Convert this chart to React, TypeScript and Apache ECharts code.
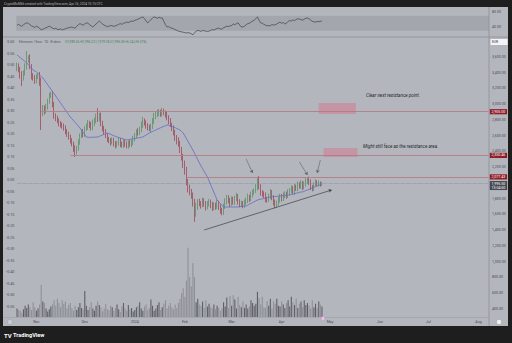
import React, { useEffect, useRef } from "react";
import * as echarts from "echarts";

// ---- data ----
const firstOpen = 3460;
const closes = [
  3490, 3440, 3370, 3330, 3400, 3480, 3560, 3590, 3480, 3360,
  3330, 3300, 3350, 3370, 3280, 2890, 2950, 2920, 2960, 3040,
  3110, 3120, 3000, 2860, 2820, 2790, 2760, 2740, 2720, 2700,
  2660, 2620, 2580, 2540, 2500, 2440, 2400, 2440, 2520, 2600,
  2640, 2620, 2690, 2720, 2760, 2740, 2700, 2760, 2800, 2840,
  2810, 2850, 2760, 2700, 2650, 2600, 2560, 2540, 2520, 2540,
  2500, 2480, 2510, 2540, 2500, 2480, 2520, 2500, 2470, 2510,
  2490, 2520, 2560, 2600, 2650, 2640, 2680, 2740, 2790, 2760,
  2730, 2700, 2690, 2720, 2780, 2850, 2870, 2880, 2900, 2880,
  2910, 2890, 2870, 2830, 2790, 2740, 2700, 2640, 2580, 2540,
  2500, 2430, 2330, 2250, 2160, 2020, 1940, 1890, 1850, 1760,
  1620, 1700, 1760, 1740, 1720, 1770, 1740, 1700, 1730, 1760,
  1720, 1690, 1720, 1700, 1740, 1700, 1660, 1630, 1700, 1760,
  1810, 1780, 1740, 1790, 1760, 1800, 1830, 1770, 1730, 1740,
  1720, 1750, 1780, 1820, 1800, 1850, 1880, 1900, 1940, 2050,
  1950, 1880, 1860, 1840, 1800, 1790, 1830, 1880, 1820, 1760,
  1720, 1740, 1790, 1830, 1800, 1840, 1860, 1840, 1880, 1900,
  1930, 1890, 1950, 1930, 1980, 1960, 2000, 1950, 1990, 2020,
  2050, 2010, 1950, 1930, 1980, 2010, 1990, 2000, 1980, 1995.5,
];
const wickUp = [
  40, 30, 35, 50, 30, 40, 116, 30, 45, 30,
  35, 40, 30, 25, 40, 60, 40, 35, 45, 30,
  35, 40, 50, 30, 25, 35, 30, 25, 30, 35,
  30, 25, 30, 35, 30, 25, 40, 30, 35, 30,
  40, 45, 30, 35, 40, 30, 35, 45, 30, 40,
  110, 40, 45, 30, 25, 35, 30, 25, 30, 40,
  35, 30, 25, 40, 30, 25, 35, 30, 25, 30,
  35, 30, 40, 35, 30, 45, 35, 40, 50, 30,
  35, 30, 40, 35, 45, 40, 35, 50, 40, 30,
  45, 35, 30, 40, 30, 35, 25, 30, 35, 30,
  40, 35, 30, 40, 35, 45, 30, 40, 35, 30,
  40, 50, 35, 40, 30, 45, 35, 30, 40, 35,
  30, 40, 35, 30, 45, 35, 30, 25, 40, 45,
  40, 35, 30, 40, 35, 40, 45, 30, 25, 35,
  30, 40, 35, 45, 30, 40, 35, 30, 45, 20,
  40, 35, 30, 35, 40, 25, 35, 45, 30, 25,
  30, 35, 40, 35, 30, 40, 35, 30, 40, 35,
  40, 30, 35, 30, 40, 30, 35, 25, 30, 40,
  20, 30, 35, 25, 30, 35, 25, 30, 20, 15,
];
const wickDown = [
  40, 35, 45, 98, 30, 35, 40, 30, 35, 45,
  30, 40, 35, 30, 45, 217, 40, 50, 35, 30,
  35, 30, 40, 45, 35, 30, 40, 35, 30, 35,
  40, 35, 30, 40, 35, 45, 70, 40, 30, 35,
  30, 40, 35, 30, 45, 40, 35, 30, 35, 40,
  35, 30, 40, 45, 35, 30, 40, 35, 45, 30,
  35, 40, 30, 35, 45, 30, 35, 40, 30, 35,
  30, 35, 40, 30, 35, 40, 30, 35, 40, 30,
  40, 35, 30, 45, 35, 30, 40, 35, 30, 40,
  35, 30, 40, 35, 45, 30, 40, 35, 45, 50,
  40, 50, 45, 60, 55, 50, 60, 45, 50, 60,
  115, 50, 40, 35, 45, 30, 40, 50, 35, 30,
  40, 45, 35, 40, 30, 45, 50, 40, 35, 30,
  35, 40, 45, 30, 35, 40, 30, 45, 40, 35,
  40, 35, 30, 35, 40, 30, 35, 30, 25, 35,
  30, 40, 35, 30, 45, 40, 30, 35, 40, 45,
  40, 35, 30, 40, 35, 30, 35, 40, 30, 35,
  30, 35, 40, 30, 35, 30, 35, 40, 30, 35,
  30, 35, 40, 35, 30, 25, 30, 35, 25, 20,
];
const volumes = [
  12, 10, 9, 6, 11, 16, 13, 18, 14, 10,
  21, 14, 9, 12, 18, 46, 22, 20, 12, 8,
  11, 15, 18, 24, 16, 26, 20, 14, 24, 19,
  22, 12, 17, 20, 13, 9, 16, 10, 14, 20,
  13, 11, 37, 16, 10, 14, 21, 12, 9, 16,
  22, 17, 14, 8, 12, 19, 11, 10, 16, 14,
  9, 13, 18, 11, 7, 15, 20, 12, 9, 17,
  11, 13, 8, 10, 14, 16, 21, 12, 9, 15,
  18, 10, 13, 25, 16, 9, 12, 17, 21, 10,
  14, 19, 24, 12, 16, 20, 14, 11, 18, 13,
  20, 26, 34, 41, 29, 52, 99, 57, 44, 77,
  57, 21, 26, 18, 16, 22, 13, 24, 15, 19,
  14, 12, 18, 11, 16, 13, 9, 12, 21, 15,
  28, 13, 30, 16, 31, 25, 12, 29, 17, 14,
  22, 13, 18, 12, 15, 24, 20, 16, 19, 36,
  27, 18, 29, 14, 13, 23, 16, 26, 12, 22,
  19, 26, 16, 15, 22, 18, 13, 20, 24, 15,
  29, 21, 17, 26, 13, 19, 22, 14, 24, 17,
  20, 16, 12, 24, 14, 19, 13, 22, 18, 15,
];
const rsi = [
  45, 47, 44, 42, 46, 49, 51, 50, 46, 43,
  41, 39, 42, 40, 37, 32, 34, 36, 38, 40,
  42, 40, 37, 35, 36, 34, 33, 35, 32, 34,
  35, 37, 38, 39, 40, 38, 37, 42, 46, 49,
  47, 45, 48, 51, 50, 46, 43, 40, 44, 48,
  52, 56, 52, 48, 45, 43, 41, 42, 44, 43,
  42, 43, 45, 47, 49, 47, 50, 51, 53, 52,
  54, 56, 55, 58, 59, 61, 63, 65, 67, 62,
  56, 51, 55, 60, 64, 67, 65, 63, 66, 64,
  64, 55, 46, 40, 41, 38, 37, 35, 33, 31,
  29, 28, 27, 26, 25, 24, 25, 24, 22, 19,
  24, 29, 31, 30, 28, 31, 30, 29, 28, 29,
  31, 33, 32, 34, 36, 37, 35, 34, 38, 40,
  42, 41, 43, 44, 48, 46, 49, 51, 45, 40,
  40, 42, 46, 49, 50, 53, 56, 58, 62, 67,
  58, 51, 50, 47, 45, 43, 44, 43, 47, 45,
  46, 48, 51, 53, 50, 52, 48, 50, 55, 57,
  56, 59, 57, 60, 62, 61, 60, 58, 61, 63,
  64, 62, 58, 55, 54, 53, 55, 54, 55, 56,
];
const ma = [
  3626, 3610, 3593, 3576, 3559, 3541, 3524, 3502, 3480, 3457,
  3435, 3422, 3410, 3391, 3372, 3353, 3334, 3305, 3276, 3248,
  3219, 3190, 3161, 3132, 3103, 3074, 3045, 3016, 2986, 2956,
  2927, 2897, 2868, 2838, 2815, 2792, 2770, 2747, 2723, 2699,
  2670, 2641, 2612, 2584, 2582, 2580, 2580, 2581, 2582, 2583,
  2584, 2592, 2601, 2610, 2618, 2627, 2635, 2627, 2618, 2610,
  2601, 2592, 2584, 2578, 2571, 2565, 2559, 2552, 2546, 2550,
  2554, 2557, 2561, 2565, 2569, 2573, 2577, 2580, 2584, 2597,
  2610, 2622, 2635, 2645, 2654, 2664, 2673, 2683, 2692, 2702,
  2711, 2720, 2728, 2737, 2731, 2724, 2718, 2711, 2702, 2692,
  2683, 2673, 2654, 2635, 2599, 2563, 2527, 2491, 2455, 2419,
  2378, 2337, 2295, 2254, 2218, 2183, 2147, 2112, 2076, 2027,
  1979, 1930, 1881, 1833, 1784, 1762, 1740, 1717, 1695, 1695,
  1695, 1695, 1695, 1695, 1695, 1695, 1695, 1697, 1699, 1702,
  1704, 1706, 1708, 1719, 1730, 1741, 1751, 1762, 1773, 1784,
  1789, 1794, 1798, 1803, 1808, 1813, 1817, 1822, 1824, 1826,
  1828, 1831, 1833, 1835, 1837, 1839, 1841, 1844, 1846, 1848,
  1853, 1859, 1864, 1870, 1875, 1881, 1886, 1886, 1894, 1903,
  1911, 1920, 1928, 1937, 1945, 1954, 1962, 1970, 1979, 1987,
];
const priceTicks = [400, 600, 800, 1000, 1200, 1400, 1600, 1800, 2000, 2200, 2400, 2600, 2800, 3000, 3200, 3400, 3600];
const ratioTicks = [0.6, 0.55, 0.5, 0.45, 0.4, 0.35, 0.3, 0.25, 0.2, 0.15, 0.1, 0.05, 0, -0.05, -0.1, -0.15, -0.2, -0.25, -0.3, -0.35, -0.4, -0.45, -0.5, -0.55];
const rsiTicks = [80, 40];
const rsiBand = [30, 70];
const levelValues = [2905.0, 2350.46, 2077.43];
const levelStartIdx = [15, 33, 105];
const lastPrice = 1995.5;
const countdown = "13:04:50";
const trendLine = { from: [116, 1403], to: [195, 1911] };
const arrows = [
  { from: [142, 2305], to: [146, 2127] },
  { from: [175, 2267], to: [180, 2102] },
  { from: [188, 2292], to: [186, 2127] },
];
const zones = [
  { x0: 187, x1: 210, y0: 3016, y1: 2876 },
  { x0: 190, x1: 211, y0: 2445, y1: 2330 },
];
const MONTHS = ["Jan", "Feb", "Mar", "Apr", "May", "Jun", "Jul", "Aug", "Sep", "Oct", "Nov", "Dec"];

// category axis (daily) from 2023-10-20 to 2024-08-07
const N_CATS = 293;
const START = Date.UTC(2023, 9, 20);
const dates: string[] = [];
for (let i = 0; i < N_CATS; i++) dates.push(new Date(START + i * 86400000).toISOString().slice(0, 10));

const fmtPrice = (v: number) =>
  v.toLocaleString("en-US", { minimumFractionDigits: 2, maximumFractionDigits: 2 });

export default function App() {
  const ref = useRef<HTMLDivElement>(null);
  useEffect(() => {
    if (!ref.current) return;
    const chart = echarts.init(ref.current, undefined, { renderer: "svg" });

    const candles = closes.map((c, i) => {
      const o = i === 0 ? firstOpen : closes[i - 1];
      return [o, c, Math.min(o, c) - wickDown[i], Math.max(o, c) + wickUp[i]];
    });
    const volData = volumes.map((v, i) => {
      const o = i === 0 ? firstOpen : closes[i - 1];
      return { value: v, itemStyle: { color: closes[i] >= o ? "#5e6067" : "#8f9198" } };
    });

    const axisText = { fontSize: 3.6, color: "#4a4c53", fontFamily: "Roboto" };
    const last = dates[N_CATS - 1];

    const option: any = {
      animation: false,
      backgroundColor: "#b4b6be",
      textStyle: { fontFamily: "Roboto" },
      grid: [
        { left: 16.2, right: 23, top: 37, height: 280 },
        { left: 16.2, right: 23, top: 7, height: 30 },
      ],
      xAxis: [
        {
          type: "category",
          gridIndex: 0,
          data: dates,
          axisLine: { show: false },
          axisTick: { show: false },
          splitLine: { show: false },
          axisLabel: {
            ...axisText,
            margin: 3,
            interval: (_i: number, v: string) => v.slice(8) === "01",
            formatter: (v: string) => {
              const m = +v.slice(5, 7);
              return m === 1 ? v.slice(0, 4) : MONTHS[m - 1];
            },
          },
        },
        { type: "category", gridIndex: 1, data: dates, show: false },
      ],
      yAxis: [
        {
          type: "value",
          gridIndex: 0,
          position: "right",
          min: 298,
          max: 3854,
          axisLine: { show: false },
          axisTick: { show: false },
          splitLine: { show: false },
          axisLabel: { ...axisText, margin: 3, customValues: priceTicks, formatter: (v: number) => fmtPrice(v) },
        },
        {
          type: "value",
          gridIndex: 0,
          position: "left",
          min: -0.5934,
          max: 0.6217,
          axisLine: { show: false },
          axisTick: { show: false },
          splitLine: { show: false },
          axisLabel: {
            ...axisText,
            margin: 2,
            customValues: ratioTicks,
            formatter: (v: number) => v.toFixed(2).replace("-", "\u2212"),
          },
        },
        { type: "value", gridIndex: 0, min: 0, max: 400, show: false },
        {
          type: "value",
          gridIndex: 1,
          position: "right",
          min: 13.33,
          max: 93.33,
          axisLine: { show: false },
          axisTick: { show: false },
          splitLine: { show: false },
          axisLabel: { ...axisText, margin: 3, customValues: rsiTicks, formatter: (v: number) => v.toFixed(2) },
        },
      ],
      series: [
        {
          type: "bar",
          xAxisIndex: 0,
          yAxisIndex: 2,
          data: volData,
          barWidth: 1.1,
          silent: true,
        },
        {
          type: "candlestick",
          xAxisIndex: 0,
          yAxisIndex: 0,
          data: candles,
          barWidth: 0.8,
          silent: true,
          itemStyle: {
            color: "#4f8c5c",
            color0: "#9b3a49",
            borderColor: "#4f8c5c",
            borderColor0: "#9b3a49",
            borderWidth: 0.7,
          },
          markArea: {
            silent: true,
            itemStyle: { color: "rgba(212,118,140,0.5)" },
            data: zones.map((z) => [
              { coord: [dates[z.x0], z.y0] },
              { coord: [dates[z.x1], z.y1] },
            ]),
          },
          markLine: {
            silent: true,
            symbol: ["none", "none"],
            data: [
              ...levelValues.map((v, k) => [
                {
                  coord: [dates[levelStartIdx[k]], v],
                  lineStyle: { color: "#b67a83", width: 0.9, type: "solid" },
                  label: {
                    show: true,
                    position: "end",
                    distance: 1.5,
                    formatter: fmtPrice(v),
                    fontSize: 3.6,
                    lineHeight: 4,
                    color: "#ffffff",
                    backgroundColor: "#921c26",
                    padding: [0.6, 1.8],
                  },
                },
                { coord: [last, v] },
              ]),
              [
                {
                  coord: [dates[0], lastPrice],
                  lineStyle: { color: "#7c7e86", width: 0.6, type: "dotted" },
                  label: {
                    show: true,
                    position: "end",
                    distance: 1.5,
                    offset: [0, 2.2],
                    formatter: fmtPrice(lastPrice) + "\n" + countdown,
                    fontSize: 3.6,
                    lineHeight: 4,
                    color: "#ffffff",
                    backgroundColor: "#464951",
                    padding: [0.5, 1.8],
                  },
                },
                { coord: [last, lastPrice] },
              ],
            ],
          },
        },
        {
          type: "line",
          xAxisIndex: 0,
          yAxisIndex: 0,
          data: ma,
          showSymbol: false,
          silent: true,
          lineStyle: { color: "#6a72c4", width: 0.9 },
          markLine: {
            silent: true,
            symbol: ["none", "arrow"],
            symbolSize: 3,
            label: { show: false },
            data: [
              [
                { coord: [dates[trendLine.from[0]], trendLine.from[1]], lineStyle: { color: "#3d3e45", width: 0.7, type: "solid" } },
                { coord: [dates[trendLine.to[0]], trendLine.to[1]] },
              ],
              ...arrows.map((a) => [
                { coord: [dates[a.from[0]], a.from[1]], lineStyle: { color: "#5d5f66", width: 0.6, type: "solid" } },
                { coord: [dates[a.to[0]], a.to[1]] },
              ]),
            ],
          },
        },
        {
          type: "line",
          xAxisIndex: 1,
          yAxisIndex: 3,
          data: rsi,
          showSymbol: false,
          silent: true,
          lineStyle: { color: "#3f4047", width: 0.7 },
          markArea: {
            silent: true,
            itemStyle: { color: "#a4a6ae" },
            data: [[{ yAxis: rsiBand[0] }, { yAxis: rsiBand[1] }]],
          },
        },
      ],
      graphic: [
        // separators
        { type: "line", shape: { x1: 3, y1: 37, x2: 508, y2: 37 }, style: { stroke: "#8d8f96", lineWidth: 0.8 }, z: 20 },
        { type: "line", shape: { x1: 489, y1: 7, x2: 489, y2: 326 }, style: { stroke: "#8d8f96", lineWidth: 0.8 }, z: 20 },
        { type: "line", shape: { x1: 3, y1: 317.5, x2: 489, y2: 317.5 }, style: { stroke: "#9c9ea5", lineWidth: 0.6 }, z: 20 },
        // dark frame
        { type: "rect", shape: { x: 0, y: 0, width: 512, height: 7 }, style: { fill: "#1e1e1e" }, z: 30 },
        { type: "rect", shape: { x: 0, y: 0, width: 3, height: 343 }, style: { fill: "#1e1e1e" }, z: 30 },
        { type: "rect", shape: { x: 508, y: 0, width: 4, height: 343 }, style: { fill: "#1e1e1e" }, z: 30 },
        { type: "rect", shape: { x: 0, y: 326, width: 512, height: 17 }, style: { fill: "#1e1e1e" }, z: 30 },
        {
          type: "text", x: 4, y: 3.8, z: 31,
          style: { text: "CryptoMoM66 created with TradingView.com, Apr 26, 2024 10:15 UTC", fill: "#b5b5b5", fontSize: 3.2, verticalAlign: "middle", fontFamily: "Roboto" },
        },
        // footer logo
        {
          type: "text", x: 4, y: 335, z: 31,
          style: { text: "TV", fill: "#ffffff", fontSize: 6, fontWeight: "bold", verticalAlign: "middle", fontFamily: "Roboto" },
        },
        {
          type: "text", x: 13, y: 335, z: 31,
          style: { text: "TradingView", fill: "#ffffff", fontSize: 5.6, fontWeight: "bold", verticalAlign: "middle", fontFamily: "Roboto" },
        },
        // legend line
        {
          type: "text", x: 19, y: 42, z: 25,
          style: { text: "Ethereum / Euro \u00b7 1D \u00b7 Kraken", fill: "#55575e", fontSize: 3.2, verticalAlign: "middle", fontFamily: "Roboto" },
        },
        {
          type: "text", x: 65, y: 42, z: 25,
          style: { text: "O1,989.26 H1,996.22 L1,979.18 C1,995.50 +6.24 (+0.31%)", fill: "#3f7f4c", fontSize: 3.2, verticalAlign: "middle", fontFamily: "Roboto" },
        },
        // currency box
        { type: "rect", shape: { x: 490.5, y: 39, width: 17, height: 6 }, style: { fill: "#f4f4f6" }, z: 25 },
        {
          type: "text", x: 492, y: 42, z: 26,
          style: { text: "EUR", fill: "#333", fontSize: 3.3, verticalAlign: "middle", fontFamily: "Roboto" },
        },
        // annotations
        {
          type: "text", x: 366, y: 95, z: 25,
          style: { text: "Clear next resistance point.", fill: "#26272b", fontSize: 4.6, fontStyle: "italic", verticalAlign: "middle", fontFamily: "Roboto" },
        },
        {
          type: "text", x: 363, y: 146, z: 25,
          style: { text: "Might still face as the resistance area.", fill: "#26272b", fontSize: 4.6, fontStyle: "italic", verticalAlign: "middle", fontFamily: "Roboto" },
        },
        // small icons in the time-axis row
        { type: "circle", shape: { cx: 10, cy: 322, r: 2.6 }, style: { fill: "#c9cbd1", stroke: "#9a9ca3", lineWidth: 0.5 }, z: 25 },
        { type: "circle", shape: { cx: 499, cy: 322, r: 2.6 }, style: { fill: "#eef0f3", stroke: "#9a9ca3", lineWidth: 0.5 }, z: 25 },
        { type: "circle", shape: { cx: 323, cy: 318.5, r: 2 }, style: { fill: "#e8c4e6", stroke: "#c58ac2", lineWidth: 0.5 }, z: 25 },
      ],
    };
    chart.setOption(option);
    return () => chart.dispose();
  }, []);
  return <div ref={ref} style={{ position: "absolute", left: 0, top: 0, width: 512, height: 343 }} />;
}
